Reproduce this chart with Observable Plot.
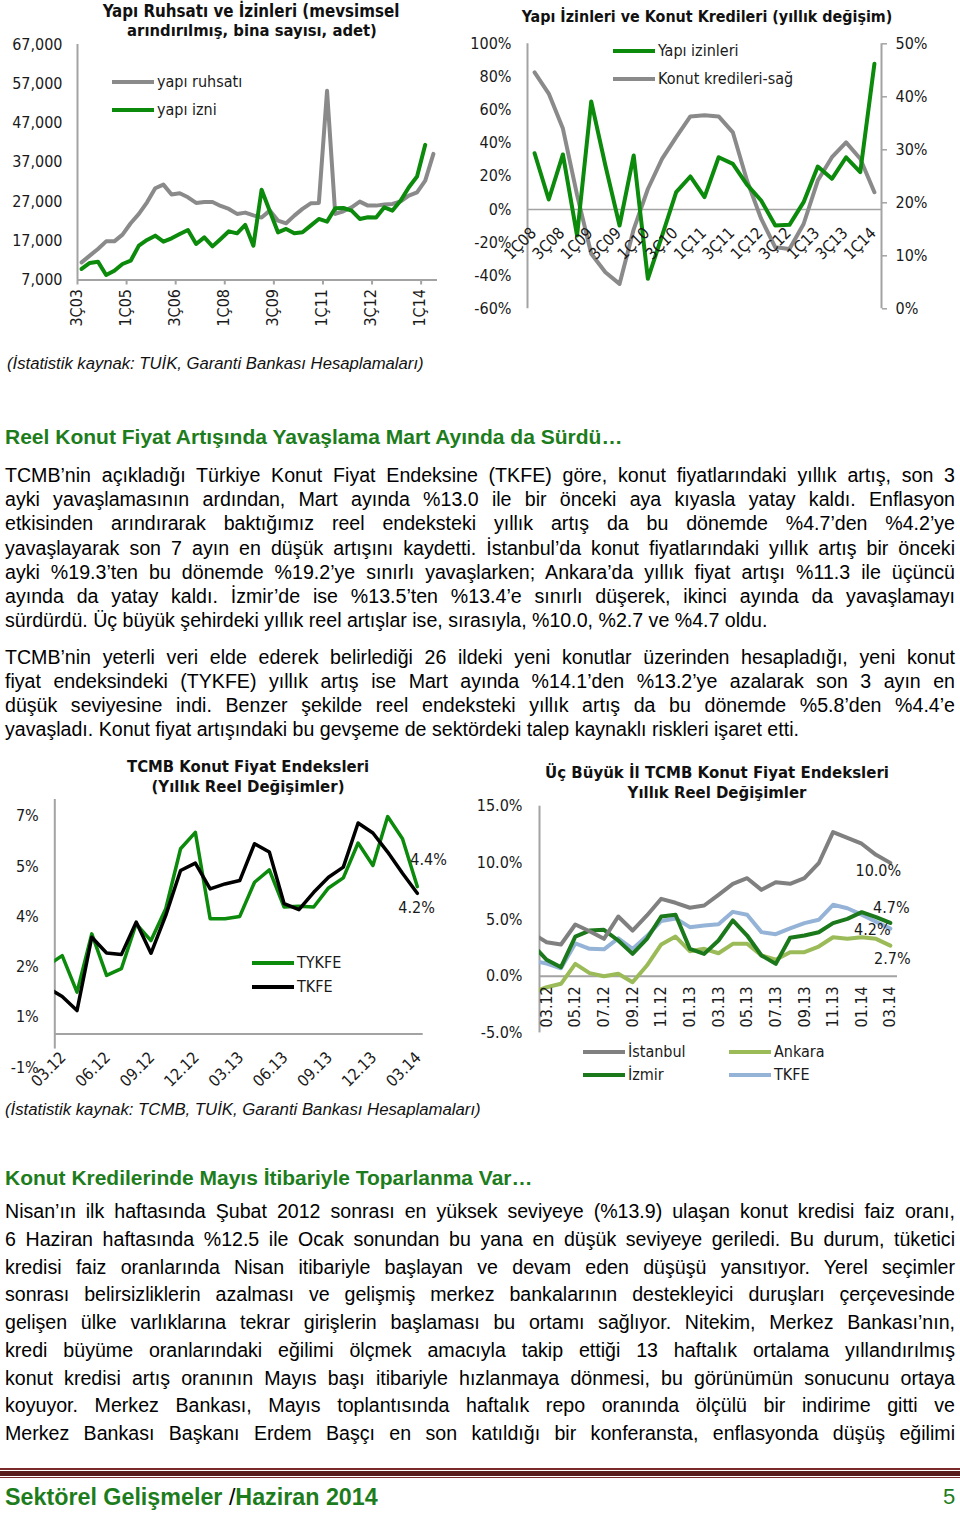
<!DOCTYPE html>
<html><head><meta charset="utf-8">
<script src="https://cdn.jsdelivr.net/npm/d3@7"></script>
<script src="https://cdn.jsdelivr.net/npm/@observablehq/plot@0.6"></script>
<style>
body{margin:0;background:#fff;}
#page{position:relative;width:960px;height:1516px;overflow:hidden;background:#fff;}
svg{position:absolute;}
</style></head>
<body><div id="page"></div>
<script>
// ---------------- DATA ----------------
// Chart 1: Yapı ruhsatı / izni (quarterly 3Ç03..2Ç14)
const quarters1 = ["3Ç03","4Ç03","1Ç04","2Ç04","3Ç04","4Ç04","1Ç05","2Ç05","3Ç05","4Ç05","1Ç06","2Ç06","3Ç06","4Ç06","1Ç07","2Ç07","3Ç07","4Ç07","1Ç08","2Ç08","3Ç08","4Ç08","1Ç09","2Ç09","3Ç09","4Ç09","1Ç10","2Ç10","3Ç10","4Ç10","1Ç11","2Ç11","3Ç11","4Ç11","1Ç12","2Ç12","3Ç12","4Ç12","1Ç13","2Ç13","3Ç13","4Ç13","1Ç14","2Ç14"];
const ruhsat = [11490,13200,14900,16850,16850,18550,21450,23830,26800,30370,31300,28760,29100,28070,26640,26890,26890,25870,25110,23840,24170,23480,22900,24680,22130,21450,23400,25110,26540,26640,55200,23840,24500,25520,26970,25950,25950,26210,26380,27050,28500,29350,32330,39140];
const izin = [9810,11340,11670,8270,9370,11080,11920,15750,17200,18300,16770,17620,18730,19750,16180,17870,15570,17460,19400,18890,21030,15750,30000,24600,19150,20000,18890,19150,20850,22560,21870,25270,25350,24680,22560,22980,22900,25520,24680,27230,30630,33350,41440];
const labels1 = ["3Ç03","1Ç05","3Ç06","1Ç08","3Ç09","1Ç11","3Ç12","1Ç14"];
const yTicks1 = [7000,17000,27000,37000,47000,57000,67000];

// Chart 2: Yapı izinleri (left, %) and Konut kredileri (right, %) 1Ç08..1Ç14
const quarters2 = ["1Ç08","2Ç08","3Ç08","4Ç08","1Ç09","2Ç09","3Ç09","4Ç09","1Ç10","2Ç10","3Ç10","4Ç10","1Ç11","2Ç11","3Ç11","4Ç11","1Ç12","2Ç12","3Ç12","4Ç12","1Ç13","2Ç13","3Ç13","4Ç13","1Ç14"];
const yapiIzinleri = [33.9,6.0,33.2,-15.8,65.2,26.5,-9.7,32.6,-41.9,-16,10.4,19.9,7.4,31.5,27.5,15.0,5.4,-9.7,-9.3,4.4,25.9,18.5,31.5,22.5,87.9];
const konutKredileri = [44.6,40.6,34.0,21.5,10.4,6.9,4.7,15.0,22.6,28.3,32.4,36.3,36.5,36.3,33.3,24.2,17.0,11.6,11.3,16.0,24.2,28.6,31.4,28.3,22.0];
const leftTicks2 = [-60,-40,-20,0,20,40,60,80,100];
const rightTicks2 = [0,10,20,30,40,50];

// Chart 3 & 4: monthly 02.12..03.14 (first month lies outside the visible axis)
const months = ["02.12","03.12","04.12","05.12","06.12","07.12","08.12","09.12","10.12","11.12","12.12","01.13","02.13","03.13","04.13","05.13","06.13","07.13","08.13","09.13","10.13","11.13","12.13","01.14","02.14","03.14"];
const tykfe = [2.04,2.34,1.25,2.99,1.75,1.95,3.29,2.79,3.74,5.53,6.02,3.44,3.44,3.51,4.53,4.90,3.79,3.81,3.79,4.36,4.66,5.70,5.03,6.49,5.83,4.4];
const tkfe = [1.38,1.12,0.70,2.89,2.42,2.37,3.34,2.41,3.54,4.88,5.10,4.33,4.48,4.58,5.68,5.43,3.89,3.71,4.23,4.68,4.98,6.30,6.00,5.43,4.8,4.2];
const labels3 = ["03.12","06.12","09.12","12.12","03.13","06.13","09.13","12.13","03.14"];
const yTicks3 = [-1,0.5,2,3.5,5,6.5];

const istanbul = [3.78,3.0,2.80,4.56,3.97,3.30,5.27,4.03,5.36,6.83,6.48,6.04,6.24,7.18,8.15,8.65,7.62,8.30,8.15,8.65,9.97,12.71,12.21,11.69,10.71,10.0];
const ankara = [-1.43,-0.97,-0.67,1.09,0.27,0.0,0.21,-0.53,0.94,2.80,3.50,2.21,2.42,2.03,2.86,2.86,1.83,1.45,2.12,2.12,2.62,3.44,3.30,3.44,3.30,2.7];
const izmir = [2.79,1.45,0.80,3.50,4.03,4.09,3.15,1.97,3.30,5.27,5.42,2.42,1.97,3.15,4.92,3.59,1.83,1.09,3.39,3.59,3.88,4.68,5.06,5.65,5.21,4.7];
const labels4 = ["03.12","05.12","07.12","09.12","11.12","01.13","03.13","05.13","07.13","09.13","11.13","01.14","03.14"];
const yTicks4 = [-5,0,5,10,15];

// ---------------- STYLE ----------------
const page = document.getElementById("page");
const chartFont = "'DejaVu Sans Condensed','DejaVu Sans',sans-serif";
const bodyFont = "'Liberation Sans',Arial,sans-serif";
const GREEN = "#0b8a0b", GRAY = "#8a8a8a", AXIS = "#a3a3a3";
const HEAD_GREEN = "#1d7d1d";
const chartStyle = {fontFamily: chartFont, fontSize: "16px", color: "#1a1a1a", background: "transparent", overflow: "visible"};

function put(el, left, top) { el.style.position = "absolute"; el.style.left = left + "px"; el.style.top = top + "px"; page.appendChild(el); return el; }

// ---------------- CHART 1 ----------------
const d1r = ruhsat.map((v, i) => ({i, v}));
const d1i = izin.map((v, i) => ({i, v}));
const lab1 = labels1.map(l => ({i: quarters1.indexOf(l), l}));
const bounds1 = lab1.map(d => d.i - 0.5);
const c1 = Plot.plot({
  width: 460, height: 340, marginLeft: 77, marginRight: 23, marginTop: 44, marginBottom: 60.5,
  style: chartStyle,
  x: {type: "linear", domain: [-0.5, quarters1.length - 0.5]},
  y: {domain: [7000, 67000]},
  marks: [
    Plot.axisY({ticks: yTicks1, tickSize: 0, tickPadding: 15, tickFormat: d3.format(","), label: null}),
    Plot.axisX({ticks: bounds1, tickSize: 5, tickFormat: () => "", stroke: AXIS, strokeWidth: 2, label: null}),
    Plot.ruleX([-0.5], {stroke: AXIS, strokeWidth: 2}),
    Plot.ruleY([7000], {stroke: AXIS, strokeWidth: 2}),
    Plot.line(d1r, {x: "i", y: "v", stroke: GRAY, strokeWidth: 4}),
    Plot.line(d1i, {x: "i", y: "v", stroke: GREEN, strokeWidth: 4}),
    Plot.text(lab1, {x: "i", frameAnchor: "bottom", text: "l", rotate: -90, textAnchor: "end", dy: 9})
  ]
});
put(c1, 0, 0);

// ---------------- CHART 2 ----------------
const toLeft = r => -60 + r * 160 / 50;
const d2 = quarters2.map((q, i) => ({i, q, iz: yapiIzinleri[i], kr: toLeft(konutKredileri[i])}));
const lab2 = quarters2.map((q, i) => ({i, q})).filter(d => d.i % 2 === 0);
const c2 = Plot.plot({
  width: 500, height: 340, marginLeft: 67, marginRight: 79, marginTop: 43.3, marginBottom: 31.7,
  style: chartStyle,
  x: {type: "linear", domain: [-0.5, quarters2.length - 0.5], axis: null},
  y: {domain: [-60, 100]},
  marks: [
    Plot.axisY({anchor: "left", ticks: leftTicks2, tickSize: 0, tickPadding: 16, tickFormat: d => d + "%", label: null}),
    Plot.axisY({anchor: "right", ticks: rightTicks2.map(toLeft), tickSize: 5, tickPadding: 9, stroke: AXIS, strokeWidth: 1.5, label: null,
      tickFormat: v => Math.round((v + 60) * 50 / 160) + "%"}),
    Plot.ruleX([-0.5, quarters2.length - 0.5], {stroke: AXIS, strokeWidth: 2}),
    Plot.ruleY([0], {stroke: AXIS, strokeWidth: 1.5}),
    Plot.line(d2, {x: "i", y: "kr", stroke: GRAY, strokeWidth: 4}),
    Plot.line(d2, {x: "i", y: "iz", stroke: GREEN, strokeWidth: 4}),
    Plot.text(lab2, {x: "i", y: () => 0, text: "q", rotate: -45, textAnchor: "end", dy: 21, dx: -1})
  ]
});
put(c2, 460, 0);

// ---------------- CHART 3 ----------------
const d3data = months.map((m, k) => ({t: k - 1, a: tykfe[k], b: tkfe[k]}));
const lab3 = labels3.map(l => ({t: months.indexOf(l) - 1, l}));
const last3 = d3data[d3data.length - 1];
const c3 = Plot.plot({
  width: 470, height: 350, marginLeft: 54.3, marginRight: 47.3, marginTop: 49, marginBottom: 33,
  style: chartStyle,
  x: {type: "linear", domain: [-0.5, 24.4], axis: null},
  y: {domain: [-1, 7]},
  marks: [
    Plot.axisY({ticks: yTicks3, tickSize: 0, tickPadding: 16, tickFormat: d => Math.round(d) + "%", label: null}),
    Plot.ruleX([-0.5], {y1: -0.45, y2: 7, stroke: AXIS, strokeWidth: 2}),
    Plot.ruleY([0], {stroke: AXIS, strokeWidth: 2}),
    Plot.line(d3data, {x: "t", y: "a", stroke: GREEN, strokeWidth: 3.5, clip: true}),
    Plot.line(d3data, {x: "t", y: "b", stroke: "#000", strokeWidth: 3.5, clip: true}),
    Plot.text(lab3, {x: "t", y: () => 0, text: "l", rotate: -45, textAnchor: "end", dy: 21, dx: 1}),
    Plot.text([last3], {x: "t", y: "a", text: d => d.a.toFixed(1) + "%", textAnchor: "start", dx: -7, dy: -27}),
    Plot.text([last3], {x: "t", y: "b", text: d => d.b.toFixed(1) + "%", textAnchor: "start", dx: -19, dy: 15})
  ]
});
put(c3, 0, 750);

// ---------------- CHART 4 ----------------
const d4 = months.map((m, k) => ({t: k - 1, ist: istanbul[k], ank: ankara[k], izm: izmir[k], tk: tkfe[k]}));
const lab4 = labels4.map(l => ({t: months.indexOf(l) - 1, l}));
const last4 = d4[d4.length - 1];
const c4 = Plot.plot({
  width: 490, height: 350, marginLeft: 69, marginRight: 63, marginTop: 55.7, marginBottom: 67.6,
  style: chartStyle,
  x: {type: "linear", domain: [-0.5, 24.5], axis: null},
  y: {domain: [-5, 15]},
  marks: [
    Plot.axisY({ticks: yTicks4, tickSize: 0, tickPadding: 17, tickFormat: d => d.toFixed(1) + "%", label: null}),
    Plot.ruleX([-0.5], {stroke: AXIS, strokeWidth: 2}),
    Plot.ruleY([0], {stroke: AXIS, strokeWidth: 2}),
    Plot.line(d4, {x: "t", y: "ank", stroke: "#9bbb59", strokeWidth: 4, clip: true}),
    Plot.line(d4, {x: "t", y: "tk", stroke: "#95b3d7", strokeWidth: 4, clip: true}),
    Plot.line(d4, {x: "t", y: "izm", stroke: "#1b781b", strokeWidth: 4, clip: true}),
    Plot.line(d4, {x: "t", y: "ist", stroke: "#808080", strokeWidth: 4, clip: true}),
    Plot.text(lab4, {x: "t", y: () => 0, text: "l", rotate: -90, textAnchor: "end", dy: 10}),
    Plot.text([last4], {x: "t", y: "ist", text: d => d.ist.toFixed(1) + "%", dx: -12, dy: 8}),
    Plot.text([last4], {x: "t", y: "izm", text: d => d.izm.toFixed(1) + "%", dx: 1, dy: -15}),
    Plot.text([last4], {x: "t", y: "tk", text: d => d.tk.toFixed(1) + "%", dx: -18, dy: 1}),
    Plot.text([last4], {x: "t", y: "ank", text: d => d.ank.toFixed(1) + "%", dx: 2, dy: 13})
  ]
});
put(c4, 470, 750);

// ---------------- TEXT HELPERS ----------------
function textAt(str, x, cy, o = {}) {
  const size = o.size || 18;
  const d = document.createElement("div");
  d.style.cssText = `position:absolute;left:${x}px;top:${cy - 12}px;height:24px;line-height:24px;white-space:nowrap;` +
    `font-family:${o.family || bodyFont};font-size:${size}px;font-weight:${o.weight || "normal"};` +
    `font-style:${o.italic ? "italic" : "normal"};color:${o.color || "#000"};` + (o.center ? "transform:translateX(-50%);" : "");
  if (o.html) d.innerHTML = str; else d.textContent = str;
  page.appendChild(d);
  const w = d.getBoundingClientRect().width;
  if (o.fit) d.style.fontSize = (size * o.fit / w) + "px";
  else if (o.justify) {
    const n = (d.textContent.match(/ /g) || []).length;
    if (n) d.style.wordSpacing = ((o.justify - w) / n) + "px";
  }
  return d;
}
function naturalWidth(str, size) {
  const d = textAt(str, 0, -100, {size});
  const w = d.getBoundingClientRect().width;
  d.remove();
  return w;
}
function legend(x, cy, color, label) {
  const s = document.createElement("div");
  s.style.cssText = `position:absolute;left:${x}px;top:${cy - 2}px;width:42px;height:4px;background:${color};`;
  page.appendChild(s);
  textAt(label, x + 45, cy, {family: chartFont, size: 16, color: "#1a1a1a"});
}
// paragraph: font size chosen so the tightest justified line has normal spacing
function paragraph(arr, x, y0, step, lastLeft, maxSize) {
  const just = lastLeft ? arr.slice(0, -1) : arr;
  const maxW = Math.max(...just.map(s => naturalWidth(s, 18)));
  const size = Math.min(maxSize, 18 * 946 / maxW);
  arr.forEach((s, k) => textAt(s, x, y0 + k * step, {size, justify: (lastLeft && k === arr.length - 1) ? 0 : 950}));
}

// Chart titles
const tb = {family: chartFont, weight: "bold", size: 15, center: true, color: "#111"};
textAt("Yapı Ruhsatı ve İzinleri (mevsimsel", 251, 11, {...tb, fit: 297});
textAt("arındırılmış, bina sayısı, adet)", 252, 31, {...tb, fit: 250});
textAt("Yapı İzinleri ve Konut Kredileri (yıllık değişim)", 707, 17, {...tb, fit: 371});
textAt("TCMB Konut Fiyat Endeksleri", 248, 767, {...tb, fit: 242});
textAt("(Yıllık Reel Değişimler)", 248, 787, {...tb, fit: 193});
textAt("Üç Büyük İl TCMB Konut Fiyat Endeksleri", 717, 773, {...tb, fit: 344});
textAt("Yıllık Reel Değişimler", 717, 793, {...tb, fit: 179});

// Legends
legend(112, 82, GRAY, "yapı ruhsatı");
legend(112, 110, GREEN, "yapı izni");
legend(613, 51, GREEN, "Yapı izinleri");
legend(613, 79, GRAY, "Konut kredileri-sağ");
legend(252, 963, GREEN, "TYKFE");
legend(252, 987, "#000", "TKFE");
legend(583, 1052, "#808080", "İstanbul");
legend(729, 1052, "#9bbb59", "Ankara");
legend(583, 1075, "#1b781b", "İzmir");
legend(729, 1075, "#95b3d7", "TKFE");

// Sources
textAt("(İstatistik kaynak: TUİK, Garanti Bankası Hesaplamaları)", 7, 364, {italic: true, size: 16, fit: 417, color: "#111"});
textAt("(İstatistik kaynak: TCMB, TUİK, Garanti Bankası Hesaplamaları)", 5, 1110, {italic: true, size: 16, fit: 476, color: "#111"});

// Section 1
textAt("Reel Konut Fiyat Artışında Yavaşlama Mart Ayında da Sürdü…", 5, 437, {weight: "bold", size: 19, fit: 618, color: HEAD_GREEN});
const para1 = [
  "TCMB’nin açıkladığı Türkiye Konut Fiyat Endeksine (TKFE) göre, konut fiyatlarındaki yıllık artış, son 3",
  "ayki yavaşlamasının ardından, Mart ayında %13.0 ile bir önceki aya kıyasla yatay kaldı. Enflasyon",
  "etkisinden arındırarak baktığımız reel endeksteki yıllık artış da bu dönemde %4.7’den %4.2’ye",
  "yavaşlayarak son 7 ayın en düşük artışını kaydetti. İstanbul’da konut fiyatlarındaki yıllık artış bir önceki",
  "ayki %19.3’ten bu dönemde %19.2’ye sınırlı yavaşlarken; Ankara’da yıllık fiyat artışı %11.3 ile üçüncü",
  "ayında da yatay kaldı. İzmir’de ise %13.5’ten %13.4’e sınırlı düşerek, ikinci ayında da yavaşlamayı",
  "sürdürdü. Üç büyük şehirdeki yıllık reel artışlar ise, sırasıyla, %10.0, %2.7 ve %4.7 oldu."
];
const para2 = [
  "TCMB’nin yeterli veri elde ederek belirlediği 26 ildeki yeni konutlar üzerinden hesapladığı, yeni konut",
  "fiyat endeksindeki (TYKFE) yıllık artış ise Mart ayında %14.1’den %13.2’ye azalarak son 3 ayın en",
  "düşük seviyesine indi. Benzer şekilde reel endeksteki yıllık artış da bu dönemde %5.8’den %4.4’e",
  "yavaşladı. Konut fiyat artışındaki bu gevşeme de sektördeki talep kaynaklı riskleri işaret etti."
];
paragraph(para1, 5, 475, 24.2, true, 19.6);
paragraph(para2, 5, 657, 24, true, 19.6);

// Section 2
textAt("Konut Kredilerinde Mayıs İtibariyle Toparlanma Var…", 5, 1178, {weight: "bold", size: 19, fit: 528, color: HEAD_GREEN});
const para3 = [
  "Nisan’ın ilk haftasında Şubat 2012 sonrası en yüksek seviyeye (%13.9) ulaşan konut kredisi faiz oranı,",
  "6 Haziran haftasında %12.5 ile Ocak sonundan bu yana en düşük seviyeye geriledi. Bu durum, tüketici",
  "kredisi faiz oranlarında Nisan itibariyle başlayan ve devam eden düşüşü yansıtıyor. Yerel seçimler",
  "sonrası belirsizliklerin azalması ve gelişmiş merkez bankalarının destekleyici duruşları çerçevesinde",
  "gelişen ülke varlıklarına tekrar girişlerin başlaması bu ortamı sağlıyor. Nitekim, Merkez Bankası’nın,",
  "kredi büyüme oranlarındaki eğilimi ölçmek amacıyla takip ettiği 13 haftalık ortalama yıllandırılmış",
  "konut kredisi artış oranının Mayıs başı itibariyle hızlanmaya dönmesi, bu görünümün sonucunu ortaya",
  "koyuyor. Merkez Bankası, Mayıs toplantısında haftalık repo oranında ölçülü bir indirime gitti ve",
  "Merkez Bankası Başkanı Erdem Başçı en son katıldığı bir konferansta, enflasyonda düşüş eğilimi"
];
paragraph(para3, 5, 1211, 27.75, false, 19.6);

// Footer
[[1468, 2, "#7a2a2a"], [1471, 5, "#5a1b1b"], [1477, 1, "#7a2a2a"]].forEach(([t, h, c]) => {
  const b = document.createElement("div");
  b.style.cssText = `position:absolute;left:0;top:${t}px;width:960px;height:${h}px;background:${c};`;
  page.appendChild(b);
});
textAt('Sektörel Gelişmeler <span style="font-weight:normal;color:#000">/</span>Haziran 2014', 5, 1497,
  {weight: "bold", size: 22, fit: 373, color: HEAD_GREEN, html: true});
textAt("5", 943, 1497, {size: 22, color: HEAD_GREEN});
</script>
</body></html>
